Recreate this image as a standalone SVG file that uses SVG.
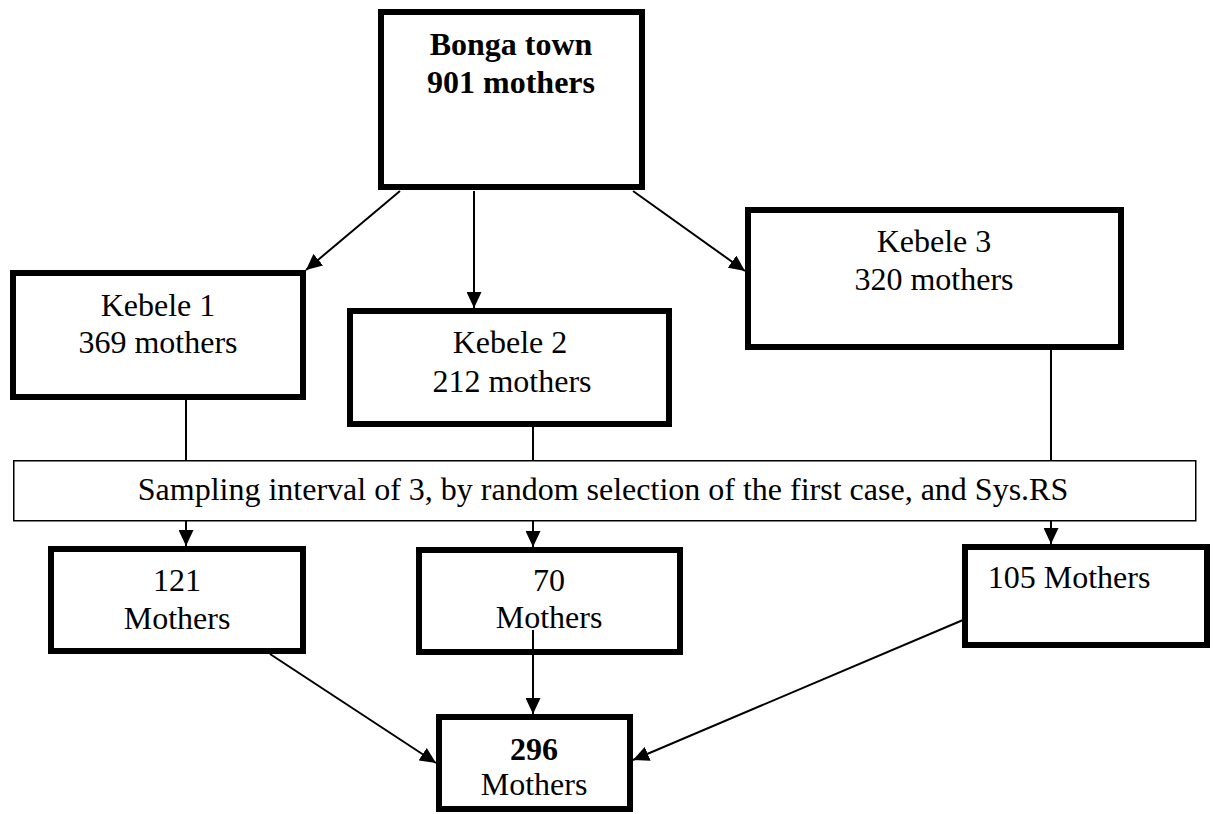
<svg xmlns="http://www.w3.org/2000/svg" width="1215" height="814" viewBox="0 0 1215 814">
<style>
.box{fill:#fff;stroke:#000;stroke-width:6}
.thin{fill:#fff;stroke:#000;stroke-width:1.5}
.t{font-family:"Liberation Serif","Times New Roman",serif;font-size:32px;fill:#000;text-anchor:middle}
.b{font-weight:bold}
.c{stroke:#000;stroke-width:2;fill:none}
.a{marker-end:url(#ah)}
</style>
<defs>
<marker id="ah" markerUnits="userSpaceOnUse" markerWidth="16" markerHeight="15" refX="16" refY="7.5" orient="auto">
<path d="M0,0 L16,7.5 L0,15 z" fill="#000"/>
</marker>
</defs>
<rect width="1215" height="814" fill="#fff"/>
<g id="bonga">
<rect class="box" x="381" y="12" width="261" height="175"/>
<text class="t b" x="511" y="55">Bonga town</text>
<text class="t b" x="511" y="93">901 mothers</text>
</g>
<g id="kebele1">
<rect class="box" x="13" y="273" width="290" height="124"/>
<text class="t" x="158" y="316">Kebele 1</text>
<text class="t" x="158" y="353">369 mothers</text>
</g>
<g id="kebele2">
<rect class="box" x="350" y="311" width="319" height="113"/>
<text class="t" x="510" y="353">Kebele 2</text>
<text class="t" x="512" y="392">212 mothers</text>
</g>
<g id="kebele3">
<rect class="box" x="748" y="210" width="373" height="137"/>
<text class="t" x="934" y="252">Kebele 3</text>
<text class="t" x="934" y="290">320 mothers</text>
</g>
<g id="sampling">
<rect class="thin" x="13.75" y="460.75" width="1182" height="60"/>
<text class="t" x="603" y="500">Sampling interval of 3, by random selection of the first case, and Sys.RS</text>
</g>
<g id="s121">
<rect class="box" x="51" y="549" width="252" height="102"/>
<text class="t" x="177" y="591">121</text>
<text class="t" x="177" y="629">Mothers</text>
</g>
<g id="s70">
<rect class="box" x="419" y="550" width="261" height="102"/>
<text class="t" x="549" y="591">70</text>
<text class="t" x="549" y="628">Mothers</text>
</g>
<g id="s105">
<rect class="box" x="965" y="547" width="242" height="98"/>
<text class="t" x="1069" y="588">105 Mothers</text>
</g>
<g id="total">
<rect class="box" x="439" y="717" width="191" height="92"/>
<text class="t b" x="534" y="760">296</text>
<text class="t" x="534" y="795">Mothers</text>
</g>
<g id="connectors">
<line class="c a" x1="400" y1="191" x2="306" y2="270"/>
<line class="c a" x1="474" y1="191" x2="474" y2="308"/>
<line class="c a" x1="633" y1="191" x2="745" y2="271"/>
<line class="c" x1="186" y1="400" x2="186" y2="460"/>
<line class="c" x1="533" y1="427" x2="533" y2="460"/>
<line class="c" x1="1051" y1="350" x2="1051" y2="460"/>
<line class="c a" x1="186" y1="521" x2="186" y2="546"/>
<line class="c a" x1="533" y1="521" x2="533" y2="547"/>
<line class="c a" x1="1051" y1="521" x2="1051" y2="544"/>
<line class="c a" x1="270" y1="654" x2="436" y2="763"/>
<line class="c a" x1="533" y1="630" x2="533" y2="714"/>
<line class="c a" x1="963" y1="620" x2="633" y2="760"/>
</g>
</svg>
